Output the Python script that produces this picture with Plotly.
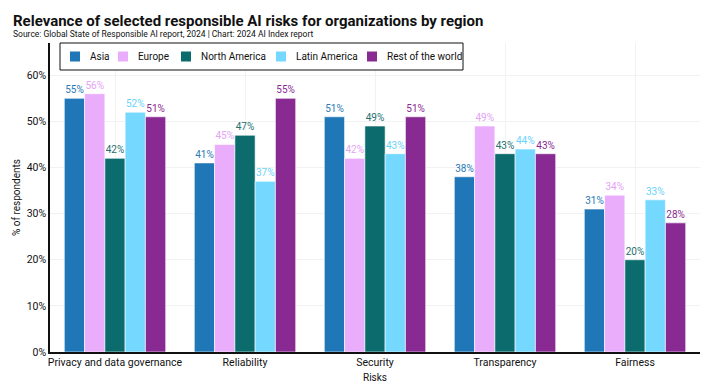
import plotly.graph_objects as go

categories = ["Privacy and data governance", "Reliability", "Security", "Transparency", "Fairness"]
regions = ["Asia", "Europe", "North America", "Latin America", "Rest of the world"]
values = {
    "Asia": [0.55, 0.41, 0.51, 0.38, 0.31],
    "Europe": [0.56, 0.45, 0.42, 0.49, 0.34],
    "North America": [0.42, 0.47, 0.49, 0.43, 0.20],
    "Latin America": [0.52, 0.37, 0.43, 0.44, 0.33],
    "Rest of the world": [0.51, 0.55, 0.51, 0.43, 0.28],
}
colors = {
    "Asia": "#1f77b7",
    "Europe": "#eaadfb",
    "North America": "#0c6b6c",
    "Latin America": "#75d8fe",
    "Rest of the world": "#892a92",
}
label_colors = {
    "Asia": "#2a7ab5",
    "Europe": "#e3a3f6",
    "North America": "#26706f",
    "Latin America": "#6ad3fb",
    "Rest of the world": "#892a92",
}

FONT = "Roboto, Inter, sans-serif"
W, H = 724, 386
L, R, T, B = 50, 24, 43, 34
PW, PH = W - L - R, H - T - B


def px(x):
    return (x - L) / PW


def py(y):
    return (H - B - y) / PH


fig = go.Figure()
for r in regions:
    fig.add_trace(go.Bar(
        name=r, x=categories, y=values[r], showlegend=False,
        marker=dict(color=colors[r], line=dict(color="rgba(255,255,255,0.6)", width=1)),
        text=[f"{v*100:.0f}%" for v in values[r]],
        textposition="outside", cliponaxis=False,
        textfont=dict(color=label_colors[r], size=10, family=FONT),
    ))

# custom legend (box, swatches, labels)
shapes = [dict(type="rect", xref="paper", yref="paper",
               x0=px(60), x1=px(463), y0=py(70), y1=py(43),
               line=dict(color="#111", width=1), fillcolor="white", layer="above")]
annotations = []
sw_x = [75, 123, 186, 281, 372]
for r, sx in zip(regions, sw_x):
    shapes.append(dict(type="rect", xref="paper", yref="paper",
                       x0=px(sx - 5), x1=px(sx + 5), y0=py(61.5), y1=py(51.5),
                       line=dict(width=0), fillcolor=colors[r], layer="above"))
    annotations.append(dict(text=r, xref="paper", yref="paper", x=px(sx + 13), y=py(56.5),
                            xanchor="left", yanchor="middle", showarrow=False,
                            font=dict(size=10, family=FONT, color="#111")))

annotations.append(dict(
    text="<b>Relevance of selected responsible AI risks for organizations by region</b>",
    xref="paper", yref="paper", x=px(11), y=py(20.5), xanchor="left", yanchor="middle",
    showarrow=False, font=dict(size=15, family=FONT, color="#111"),
))
annotations.append(dict(
    text="Source: Global State of Responsible AI report, 2024 | Chart: 2024 AI Index report",
    xref="paper", yref="paper", x=px(11), y=py(34), xanchor="left", yanchor="middle",
    showarrow=False, font=dict(size=8.5, family=FONT, color="#111"),
))

fig.update_layout(
    barmode="group", bargap=0.22, bargroupgap=0,
    width=W, height=H,
    margin=dict(l=L, r=R, t=T, b=B, autoexpand=False),
    plot_bgcolor="white", paper_bgcolor="white",
    font=dict(family=FONT, size=10, color="#111"),
    shapes=shapes, annotations=annotations,
)
fig.update_xaxes(
    showline=True, linecolor="#111", linewidth=1.5, automargin=False,
    showgrid=True, gridcolor="#f2f2f2",
    title=dict(text="Risks", font=dict(size=10), standoff=6),
    tickfont=dict(size=10.5), ticks="",
)
fig.update_yaxes(
    range=[0, 0.67], tickformat=".0%", dtick=0.1, automargin=False,
    showline=True, linecolor="#111", linewidth=1.5,
    showgrid=True, gridcolor="#f2f2f2", zeroline=False,
    title=dict(text="% of respondents", font=dict(size=10), standoff=4),
    tickfont=dict(size=10.5), ticks="",
)
fig.write_html(
    "out.html",
    config={"displayModeBar": False},
    post_script="document.body.style.margin='0';document.body.style.padding='0';"
                "document.documentElement.style.overflow='hidden';",
)
